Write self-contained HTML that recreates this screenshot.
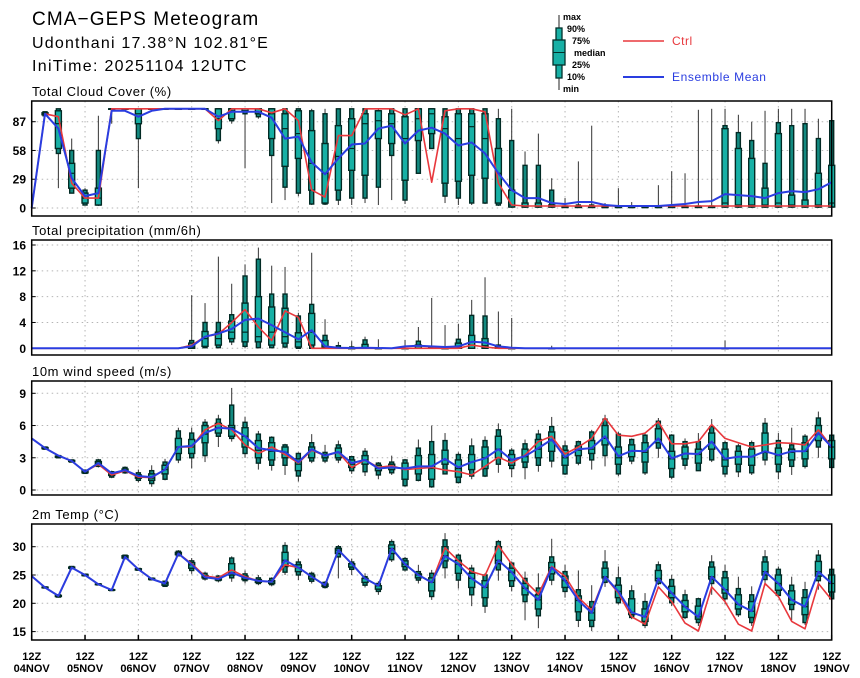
<!DOCTYPE html>
<html><head><meta charset="utf-8"><style>
html,body{margin:0;padding:0;background:#fff;}
svg{display:block;font-family:"Liberation Sans",sans-serif;}
</style></head><body>
<svg id="chart" width="860" height="678" viewBox="0 0 860 678" xmlns="http://www.w3.org/2000/svg">
<g>
<text x="32" y="25" font-size="19" letter-spacing="1.1">CMA−GEPS Meteogram</text>
<text x="32" y="48" font-size="16" letter-spacing="1.2">Udonthani 17.38°N 102.81°E</text>
<text x="32" y="71" font-size="16" letter-spacing="1.3">IniTime: 20251104 12UTC</text>
</g>
<g font-size="9" font-weight="bold">
<line x1="559" y1="15" x2="559" y2="90" stroke="#222" stroke-width="1"/>
<rect x="556" y="28" width="6" height="50" fill="#17b0a5" stroke="#03302a" stroke-width="1.3"/>
<rect x="553" y="40" width="12" height="25" fill="#17b0a5" stroke="#03302a" stroke-width="1.3"/>
<line x1="553" y1="52.5" x2="565" y2="52.5" stroke="#03302a"/>
<text x="563" y="20">max</text><text x="567" y="32">90%</text><text x="572" y="44">75%</text>
<text x="574" y="56">median</text><text x="572" y="68">25%</text><text x="567" y="80">10%</text><text x="563" y="92">min</text>
<line x1="623" y1="41" x2="664" y2="41" stroke="#e8383d" stroke-width="1.5"/>
<text x="672" y="45" font-size="12" font-weight="normal" fill="#e8383d" letter-spacing="0.5">Ctrl</text>
<line x1="623" y1="77" x2="664" y2="77" stroke="#2a3de0" stroke-width="2"/>
<text x="672" y="81" font-size="12" font-weight="normal" fill="#2a3de0" letter-spacing="0.6">Ensemble Mean</text>
</g>
</svg>
<script>
// ---- Time axis ----
const dayLabels = ["04NOV","05NOV","06NOV","07NOV","08NOV","09NOV","10NOV","11NOV","12NOV","13NOV","14NOV","15NOV","16NOV","17NOV","18NOV","19NOV"];

// ---- Cloud cover (%) ----
const cloudTicks = [0,29,58,87];
const cloudCtrl = [0,95,92,25,10,10,100,100,100,100, 100,100,100,100,88,100,100,100,96,100, 88,18,11,73,73,100,100,100,94,100, 26,98,100,100,97,25,3,2,2,2, 2,2,2,2,2,2,2,2,2,2, 2,2,2,2,2,2,2,2,2,2, 2];
const cloudMean = [0,95,80,30,12,15,98,98,92,98, 100,100,100,100,92,97,97,97,91,70, 72,46,34,50,64,65,80,83,65,78, 81,75,63,66,55,35,18,10,10,5, 4,6,6,3,2,2,2,2,3,4, 6,7,14,13,12,10,15,17,16,19, 26];
const cloudMax = [null,97,100,70,20,93,100,100,100,100, 100,100,100,100,100,100,100,100,100,100, 100,100,100,100,100,100,100,100,100,100, 100,100,100,100,100,100,100,57,75,30, 10,47,83,5,20,6,2,23,37,35, 99,100,100,94,87,98,100,100,100,90, 100];
const cloudP90 = [null,97,100,58,18,58,100,100,100,100, 100,100,100,100,100,100,100,100,100,100, 100,98,95,100,100,100,98,100,100,100, 100,100,100,100,100,90,68,43,43,18, 2,3,3,1,1,1,1,1,2,2, 2,2,83,76,68,45,86,83,85,70, 88];
const cloudP75 = [null,96,98,45,15,20,100,100,100,100, 100,100,100,100,100,100,100,100,100,95, 98,78,65,83,90,95,98,95,92,100, 100,92,95,95,95,60,18,5,5,3, 1,1,1,1,1,1,1,1,1,1, 1,1,80,60,50,20,75,13,8,35, 43];
const cloudMed = [null,95,85,35,10,10,100,100,95,100, 100,100,100,100,90,98,100,100,95,80, 75,45,35,52,60,85,88,85,70,90, 95,80,70,82,70,35,3,1,1,1, 1,1,1,1,1,1,1,1,1,1, 1,1,5,3,3,3,5,3,2,3, 5];
const cloudP25 = [null,94,60,20,5,3,100,100,85,100, 100,100,100,100,80,90,98,95,70,42, 50,18,5,18,38,33,70,65,28,68, 75,25,27,33,30,5,1,1,1,1, 1,1,1,1,1,1,1,1,1,1, 1,1,1,1,1,1,1,1,1,1, 1];
const cloudP10 = [null,93,55,15,3,3,100,100,70,100, 100,100,100,100,68,88,95,92,53,21, 15,4,4,8,10,10,21,53,8,35, 60,12,10,5,5,3,1,1,1,1, 1,1,1,1,1,1,1,1,1,1, 1,1,1,1,1,1,1,1,1,1, 1];
const cloudMin = [null,92,20,15,3,2,85,100,20,100, 100,100,100,100,65,85,40,90,5,8, 12,3,3,3,3,5,3,8,4,35, 60,5,3,3,4,2,0,0,0,0, 0,0,0,0,0,0,0,0,0,0, 0,0,0,0,0,0,0,0,0,0, 0];

// ---- Precipitation (mm/6h) ----
const precTicks = [0,4,8,12,16];
const precCtrl = [0,0,0,0,0,0,0,0,0,0, 0,0,0.5,1.8,2.2,4.0,6.0,3.3,1.2,5.8, 4.8,0,0,0,0,0,0,0,0,0, 0,0,0,0.5,0.2,0,0,0,0,0, 0,0,0,0,0,0,0,0,0,0, 0,0,0,0,0,0,0,0,0,0, 0];
const precMean = [0,0,0,0,0,0,0,0,0,0, 0,0,0.3,1.8,2.3,3.0,4.4,4.6,3.6,2.5, 1.4,2.8,0.3,0.1,0.05,0.1,0.05,0,0.3,0.4, 0.3,0.2,0.3,1.0,0.9,0.3,0.1,0,0,0, 0,0,0,0,0,0,0,0,0,0, 0,0,0,0,0,0,0,0,0,0, 0];
const precMax = [null,0,0,0,0,0,0,0,0,0, 0,0,8.2,7,14.2,10,13,15.6,12.8,12.6, 5.5,14.8,4.5,1.0,1.1,1.8,1.4,0,1.3,3.3, 7.8,3.6,3.8,7.5,11,5.7,4.7,0,0,0.4, 0,0,0,0,0,0,0,0,0,0, 0,0,1.2,0,0,0,0,0,0,0, 0];
const precP90 = [null,0,0,0,0,0,0,0,0,0, 0,0,1.2,4.0,4.0,5.2,11.2,13.8,8.4,8.4, 5.0,6.8,2.0,0.4,0.2,1.3,0,0,0,1.1, 0.3,0,1.4,5.1,5.0,0.5,0,0,0,0, 0,0,0,0,0,0,0,0,0,0, 0,0,0,0,0,0,0,0,0,0, 0];
const precP75 = [null,0,0,0,0,0,0,0,0,0, 0,0,0.8,2.6,2.5,4.2,7.0,8.0,6.4,6.2, 2.4,5.4,1.2,0.1,0,0.6,0,0,0,0.5, 0.1,0,0.8,2.0,1.5,0.2,0,0,0,0, 0,0,0,0,0,0,0,0,0,0, 0,0,0,0,0,0,0,0,0,0, 0];
const precMed = [null,0,0,0,0,0,0,0,0,0, 0,0,0.2,1.5,1.5,2.5,2.5,1.8,2.5,1.8, 1.0,2.5,0.2,0,0,0,0,0,0,0, 0,0,0.2,0.5,0.4,0,0,0,0,0, 0,0,0,0,0,0,0,0,0,0, 0,0,0,0,0,0,0,0,0,0, 0];
const precP25 = [null,0,0,0,0,0,0,0,0,0, 0,0,0,0.3,0.5,1.5,1.0,1.0,0.5,0.8, 0.2,0.5,0,0,0,0,0,0,0,0, 0,0,0,0,0,0,0,0,0,0, 0,0,0,0,0,0,0,0,0,0, 0,0,0,0,0,0,0,0,0,0, 0];
const precP10 = [null,0,0,0,0,0,0,0,0,0, 0,0,0,0.1,0.1,1.0,0.3,0.1,0.1,0.2, 0,0,0,0,0,0,0,0,0,0, 0,0,0,0,0,0,0,0,0,0, 0,0,0,0,0,0,0,0,0,0, 0,0,0,0,0,0,0,0,0,0, 0];
const precMin = [null,0,0,0,0,0,0,0,0,0, 0,0,0,0,0,0.5,0,0,0,0, 0,0,0,0,0,0,0,0,0,0, 0,0,0,0,0,0,0,0,0,0, 0,0,0,0,0,0,0,0,0,0, 0,0,0,0,0,0,0,0,0,0, 0];

// ---- 10m wind speed (m/s) ----
const windTicks = [0,3,6,9];
const windCtrl = [4.8,3.9,3.2,2.7,1.7,2.4,1.4,1.8,1.2,1.15, 1.9,4.0,4.0,5.6,6.2,5.6,4.2,3.4,4.0,3.3, 2.5,3.7,3.2,3.5,2.1,2.8,2.1,2.25,1.9,2.0, 2.1,1.85,1.7,1.4,2.2,3.05,2.5,3.25,4.5,5.0, 3.35,4.0,4.8,6.7,5.1,5.0,5.3,6.35,4.3,4.3, 4.5,6.1,4.8,4.4,4.0,4.2,4.4,4.35,4.2,5.6, 4.0];
const windMean = [4.8,3.9,3.2,2.7,1.7,2.5,1.55,1.85,1.3,1.2, 1.9,4.0,4.1,5.3,5.8,5.7,5.0,3.9,3.7,3.55, 2.6,3.8,3.2,3.55,2.5,2.8,2.0,2.1,2.0,2.2, 2.2,2.9,2.1,2.6,2.95,3.8,2.8,3.15,3.9,4.7, 3.05,3.8,3.9,5.0,3.15,3.65,3.6,4.8,2.95,3.4, 3.35,4.5,2.9,3.1,3.1,3.6,3.25,3.6,3.6,5.3, 4.0];
const windMin = [null,3.8,3.0,2.6,1.5,2.1,1.1,1.5,0.7,0.3, 0.9,2.5,2.0,2.6,4.0,4.5,3.0,1.9,1.8,1.4, 0.8,2.5,2.5,2.5,1.5,1.3,1.0,1.4,0.3,0.8, 0.2,1.5,0.6,1.0,1.2,1.6,1.2,1.0,1.7,2.1, 1.4,2.3,1.9,2.2,1.3,2.4,1.4,3.0,1.0,1.9, 1.8,2.6,1.2,1.2,1.4,2.3,1.0,1.4,2.0,3.0, 2.1];
const windP10 = [null,3.8,3.0,2.6,1.55,2.2,1.2,1.6,0.9,0.6, 1.0,2.8,3.0,3.2,5.0,4.8,3.4,2.5,2.3,2.3, 1.3,2.7,2.7,2.8,1.8,1.7,1.4,1.6,0.4,0.9, 0.3,1.5,0.7,1.3,1.3,2.4,2.0,2.1,2.3,2.7, 1.5,2.5,2.8,3.2,1.5,2.7,1.6,3.9,1.2,2.3, 1.8,2.8,1.5,1.7,1.6,2.8,1.7,2.2,2.2,4.0, 2.1];
const windP25 = [null,3.85,3.05,2.65,1.6,2.35,1.35,1.7,1.1,0.9, 1.5,3.4,3.4,4.4,5.3,5.0,4.0,3.0,2.8,3.0, 1.8,3.0,3.0,3.0,2.1,2.4,1.8,1.9,1.0,1.5, 1.0,2.4,1.2,1.9,2.0,3.0,2.3,2.6,3.0,3.6, 2.3,3.2,3.4,4.2,2.4,3.1,2.6,4.4,2.0,2.9, 2.5,3.8,2.2,2.4,2.3,3.5,2.4,2.8,2.9,4.6, 2.9];
const windMed = [null,3.9,3.1,2.7,1.7,2.5,1.5,1.8,1.2,1.1, 1.9,4.0,4.0,5.2,5.8,5.8,5.0,3.7,3.6,3.5, 2.4,3.7,3.2,3.5,2.4,2.8,2.0,2.1,2.0,2.2, 2.0,2.8,2.0,2.6,3.0,3.8,2.8,3.1,3.8,4.6, 3.0,3.7,3.8,4.8,3.0,3.6,3.5,4.7,2.9,3.4, 3.3,4.4,2.8,3.1,3.1,3.5,3.2,3.5,3.6,5.2, 4.0];
const windP75 = [null,3.95,3.15,2.75,1.8,2.65,1.6,1.95,1.4,1.5, 2.3,4.8,4.7,6.0,6.2,6.0,5.8,4.6,4.4,4.0, 2.9,4.0,3.3,3.9,2.8,3.2,2.3,2.4,2.5,3.2, 3.3,3.7,2.8,3.3,4.0,5.0,3.3,3.8,4.7,5.4, 3.7,4.1,4.6,6.0,4.0,4.2,4.4,5.7,3.6,4.0, 3.8,5.3,3.8,3.6,3.8,5.3,3.9,3.8,4.4,6.0, 4.6];
const windP90 = [null,4.0,3.2,2.8,1.85,2.8,1.7,2.1,1.6,1.8, 2.6,5.5,5.3,6.3,6.6,7.9,6.3,5.2,4.9,4.2, 3.4,4.4,3.5,4.2,3.1,3.6,2.5,2.6,2.8,3.9, 4.5,4.6,3.3,4.1,4.6,5.6,3.7,4.3,5.2,5.9, 4.1,4.5,5.4,6.6,5.2,4.7,5.1,6.4,5.1,4.5, 4.5,5.9,4.4,4.1,4.4,6.2,4.6,4.2,5.0,6.7, 5.1];
const windMax = [null,4.0,3.2,2.8,1.9,2.9,1.8,2.2,1.9,2.3, 2.9,5.8,5.8,6.6,7.0,9.5,6.8,5.5,5.0,4.3, 3.5,5.2,4.2,4.6,3.2,3.9,2.6,3.2,2.9,4.7, 6.0,5.3,3.5,4.8,5.0,6.2,3.9,4.7,5.6,6.8, 4.6,4.6,5.6,7.0,5.4,4.8,5.3,6.7,5.2,4.8, 5.3,6.6,4.6,4.3,4.6,6.7,5.3,5.8,5.2,7.3, 5.3];

// ---- 2m temperature (°C) ----
const tempTicks = [15,20,25,30];
const tempCtrl = [24.8,22.8,21.3,26.3,25.0,23.35,22.35,28.2,26.0,24.3, 23.5,28.8,27.0,24.8,24.5,25.9,24.7,23.95,23.8,26.8, 26.3,24.7,23.2,29.4,27.0,24.4,23.1,29.7,26.9,25.0, 23.7,29.8,27.5,25.6,24.9,30.2,26.9,23.95,21.6,26.5, 24.8,21.0,18.8,24.7,21.8,17.6,16.3,22.9,20.3,16.5, 15.1,22.9,20.3,16.3,15.1,23.5,21.2,16.8,15.5,23.5, 20.6];
const tempMean = [24.8,22.8,21.3,26.3,25.0,23.35,22.35,28.2,26.0,24.3, 23.5,28.8,26.8,24.6,24.3,25.4,24.5,23.95,23.8,27.6, 26.3,24.7,23.2,29.4,27.0,24.4,23.1,29.7,26.9,25.0, 23.7,28.4,26.9,24.4,22.8,27.6,25.5,22.65,20.6,26.3, 24.0,20.5,18.3,24.7,22.1,18.4,17.6,24.4,21.8,19.4, 17.6,24.7,22.4,19.8,18.6,25.6,23.5,20.6,19.4,25.6, 23.5];
const tempMin = [null,22.6,21.0,26.0,24.8,23.2,22.2,27.8,25.8,24.1, 22.9,28.3,25.2,24.0,23.7,23.8,23.5,23.2,23.0,25.0, 24.1,23.5,22.6,24.4,25.0,22.8,21.5,27.3,25.6,23.5, 20.6,24.4,22.6,19.5,18.3,24.0,22.1,17.0,15.6,23.2, 21.0,15.8,15.1,22.9,19.8,17.2,15.6,23.2,19.5,17.2, 16.0,21.5,19.9,17.6,16.0,23.5,21.0,17.0,16.2,22.4, 19.1];
const tempP10 = [null,22.7,21.1,26.1,24.85,23.25,22.25,27.9,25.85,24.15, 23.0,28.4,25.8,24.3,24.0,24.5,24.0,23.5,23.3,25.5, 25.0,23.9,22.8,28.2,26.0,23.2,22.1,27.7,25.9,24.1, 21.2,26.3,24.1,21.5,19.5,25.9,23.0,20.3,17.8,24.1, 22.1,17.0,15.9,23.7,20.1,17.5,16.1,23.5,20.1,17.5, 16.6,23.5,20.8,18.0,16.6,24.2,21.4,18.9,16.6,24.0, 20.8];
const tempP25 = [null,22.75,21.2,26.2,24.9,23.3,22.3,28.0,25.9,24.2, 23.2,28.6,26.2,24.5,24.1,25.0,24.2,23.7,23.5,26.5, 25.6,24.3,23.0,28.8,26.4,23.7,22.5,28.8,26.5,24.5, 22.2,27.5,25.3,22.8,21.0,27.0,24.0,21.5,19.0,25.2, 22.8,18.5,17.0,24.5,21.0,18.0,16.8,24.0,21.0,18.5, 17.2,24.3,21.8,19.0,17.5,25.0,22.3,19.8,18.0,24.8, 22.0];
const tempMed = [null,22.8,21.3,26.3,25.0,23.35,22.35,28.2,26.0,24.3, 23.5,28.8,26.8,24.6,24.3,25.4,24.5,23.9,23.8,27.6, 26.3,24.7,23.2,29.4,27.0,24.4,23.1,29.7,26.9,25.0, 23.7,28.4,26.9,24.4,22.8,27.6,25.5,22.65,20.6,26.3, 24.0,20.5,18.3,24.7,22.1,18.4,17.6,24.4,21.8,19.4, 17.6,24.7,22.4,19.8,18.6,25.6,23.5,20.6,19.4,25.6, 23.5];
const tempP75 = [null,22.85,21.4,26.4,25.1,23.4,22.4,28.4,26.1,24.4, 23.7,29.0,27.2,24.9,24.5,27.0,24.8,24.2,24.0,29.0, 26.8,25.0,23.4,29.7,27.0,24.4,23.1,30.3,27.5,25.2, 24.5,30.0,27.6,25.3,24.0,30.0,26.2,23.5,21.5,27.2, 24.8,21.3,19.3,26.2,23.2,20.8,19.0,25.8,23.0,20.5, 19.5,26.4,24.5,21.5,20.3,27.3,25.0,22.2,21.0,27.4, 25.0];
const tempP90 = [null,22.9,21.5,26.5,25.15,23.45,22.45,28.5,26.15,24.45, 23.9,29.2,27.5,25.3,24.8,28.0,25.2,24.5,24.4,30.2, 27.3,25.3,23.7,30.0,27.3,24.7,23.5,30.9,27.9,25.6, 25.3,31.2,28.5,26.2,25.0,30.9,27.1,24.4,22.7,28.2, 25.6,22.4,20.3,27.3,24.5,22.2,20.3,26.8,24.2,21.5, 20.8,27.3,25.6,22.6,21.5,28.2,26.0,23.2,22.4,28.5, 26.0];
const tempMax = [null,23.0,21.6,26.6,25.2,23.5,22.5,28.6,26.2,24.5, 24.0,29.4,28.0,25.6,25.0,28.3,25.8,25.0,24.6,30.8, 27.9,25.6,23.9,30.3,27.9,25.3,23.9,31.3,28.2,26.8, 25.9,32.4,28.8,26.8,25.3,31.2,27.4,25.6,25.3,31.4, 26.8,25.8,23.2,29.4,26.5,23.2,21.8,27.4,25.0,22.4, 21.0,28.5,26.8,24.7,23.0,29.4,26.5,24.7,23.8,29.4, 26.5];

// ---- Layout ----
const NS = "http://www.w3.org/2000/svg";
const svg = document.getElementById("chart");
const X0 = 31.7, X1 = 831.7, NSTEP = 60;
function xAt(i){ return X0 + (X1 - X0) * i / NSTEP; }
function mk(tag, attrs, parent){
  const e = document.createElementNS(NS, tag);
  for (const k in attrs) e.setAttribute(k, attrs[k]);
  (parent || svg).appendChild(e);
  return e;
}
function makeScale(vA, yA, vB, yB){ return v => yA + (v - vA) * (yB - yA) / (vB - vA); }

const panels = [
  {name:"cloud", title:"Total Cloud Cover (%)", top:101, bottom:216, y:makeScale(0,208,87,121.7), ticks:cloudTicks,
   ctrl:cloudCtrl, mean:cloudMean, mn:cloudMin, p10:cloudP10, p25:cloudP25, med:cloudMed, p75:cloudP75, p90:cloudP90, mx:cloudMax},
  {name:"precip", title:"Total precipitation (mm/6h)", top:240, bottom:355, y:makeScale(0,348.3,16,245), ticks:precTicks,
   ctrl:precCtrl, mean:precMean, mn:precMin, p10:precP10, p25:precP25, med:precMed, p75:precP75, p90:precP90, mx:precMax},
  {name:"wind", title:"10m wind speed (m/s)", top:381, bottom:495, y:makeScale(0,490,9,393.3), ticks:windTicks,
   ctrl:windCtrl, mean:windMean, mn:windMin, p10:windP10, p25:windP25, med:windMed, p75:windP75, p90:windP90, mx:windMax},
  {name:"temp", title:"2m Temp (°C)", top:524, bottom:640, y:makeScale(25,575,30,546.7), ticks:tempTicks,
   ctrl:tempCtrl, mean:tempMean, mn:tempMin, p10:tempP10, p25:tempP25, med:tempMed, p75:tempP75, p90:tempP90, mx:tempMax}
];

panels.forEach((p, pi) => {
  const g = mk("g", {});
  
  
  const t = mk("text", {x:32, y:p.top-5, "font-size":13, "letter-spacing":"0.6"}, g);
  t.textContent = p.title;
  
  
  for (let d = 1; d < 15; d++){
    const gx = xAt(d*4);
    const gl = mk("line", {x1:gx, x2:gx, y1:p.top, y2:p.bottom, stroke:"#b5b5b5", "stroke-width":1, "stroke-dasharray":"1.5,3.5"}, g);
    
    
  }
  p.ticks.forEach(v => {
    const ty = p.y(v);
    const hl = mk("line", {x1:X0, x2:X1, y1:ty, y2:ty, stroke:"#b5b5b5", "stroke-width":1, "stroke-dasharray":"1.5,3.5"}, g);
    
    
    mk("line", {x1:X0, x2:X0+4, y1:ty, y2:ty, stroke:"#000", "stroke-width":1}, g);
    const lt = mk("text", {x:26, y:ty+4.5, "font-size":12, "font-weight":"bold", "text-anchor":"end"}, g);
    lt.textContent = String(v);
    
    
  });
  for (let i = 1; i <= NSTEP; i++){
    if (p.mx[i] === null) continue;
    if (p.name === "precip" && p.mx[i] <= 0) continue;
    const cx = xAt(i);
    const bg = mk("g", {}, g);
    
    
    mk("line", {x1:cx, x2:cx, y1:p.y(p.mx[i]), y2:p.y(p.mn[i]), stroke:"#333", "stroke-width":1}, bg);
    const o1 = p.y(p.p90[i]), o2 = p.y(p.p10[i]);
    mk("rect", {x:cx-2, y:o1, width:4, height:Math.max(0.5, o2-o1), fill:"#138a80", stroke:"#022a24", "stroke-width":1.4}, bg);
    const i1 = p.y(p.p75[i]), i2 = p.y(p.p25[i]);
    mk("rect", {x:cx-3, y:i1, width:6, height:Math.max(0.5, i2-i1), fill:"#17b0a5", stroke:"#022a24", "stroke-width":1.4}, bg);
    const my = p.y(p.med[i]);
    mk("line", {x1:cx-3, x2:cx+3, y1:my, y2:my, stroke:"#022a24", "stroke-width":1.2}, bg);
  }
  const pts = arr => arr.map((v, i) => xAt(i).toFixed(1) + "," + p.y(v).toFixed(1)).join(" ");
  const cl = mk("polyline", {points:pts(p.ctrl), fill:"none", stroke:"#e8383d", "stroke-width":1.6, "stroke-linejoin":"round"}, g);
  
  
  const ml = mk("polyline", {points:pts(p.mean), fill:"none", stroke:"#2a3de0", "stroke-width":2, "stroke-linejoin":"round"}, g);
  
  
  const fr = mk("rect", {x:X0, y:p.top, width:X1-X0, height:p.bottom-p.top, fill:"none", stroke:"#000", "stroke-width":1.5}, g);
  
  
  if (pi === 3){
    dayLabels.forEach((lab, d) => {
      const tx = xAt(d*4);
      mk("line", {x1:tx, x2:tx, y1:p.bottom, y2:p.bottom-5, stroke:"#000", "stroke-width":1.5}, g);
      const a = mk("text", {x:tx, y:660, "font-size":11, "font-weight":"bold", "text-anchor":"middle"}, g);
      a.textContent = "12Z";
      
      
      const b = mk("text", {x:tx, y:672, "font-size":11, "font-weight":"bold", "text-anchor":"middle"}, g);
      b.textContent = lab;
      
      
    });
  }
});
</script>
</body></html>
